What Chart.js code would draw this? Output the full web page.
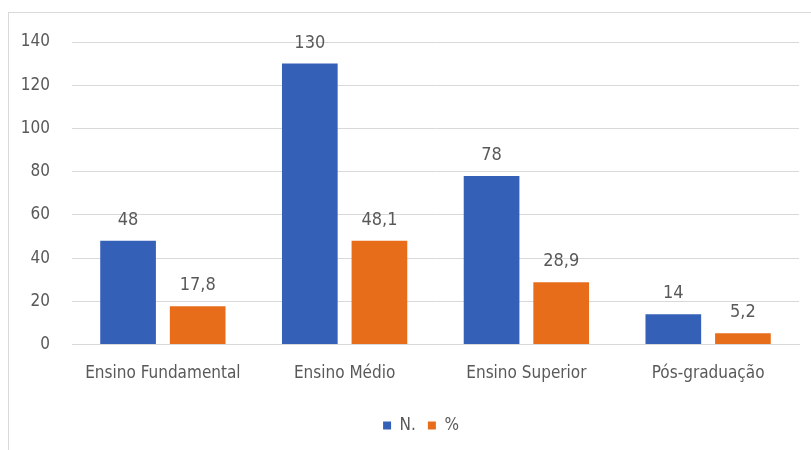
<!DOCTYPE html>
<html>
<head>
<meta charset="utf-8">
<script src="https://cdn.jsdelivr.net/npm/chart.js@4/dist/chart.umd.min.js"></script>
<style>
  body { margin: 0; background: #fff; }
  #frame {
    position: absolute; left: 8px; top: 12px; width: 810px; height: 445px;
    border: 1px solid #d9d9d9; box-sizing: border-box;
  }
  #wrap { position: absolute; left: 0; top: 0; width: 802px; height: 437px; }
</style>
</head>
<body>
<div id="frame"><div id="wrap"><canvas id="chart"></canvas></div></div>
<script>
const categories = ['Ensino Fundamental', 'Ensino Médio', 'Ensino Superior', 'Pós-graduação'];
const countValues = [48, 130, 78, 14];
const percentValues = [17.8, 48.1, 28.9, 5.2];
const seriesNames = ['N.', '%'];

const FAMILY = '"DejaVu Sans", sans-serif';
const WEIGHT = 'normal condensed'; // vira "normal condensed 17px ..." na string da fonte
const textColor = '#595959';
const font = (size) => ({ family: FAMILY, size: size, weight: WEIGHT });

// gradiente vertical em cada barra, como no Excel
function barGradient(light, dark) {
    return (ctx) => {
        const el = ctx.element;
        if (!ctx.chart.chartArea || !el) return dark;
        const top = Math.min(el.y, el.base);
        const bottom = Math.max(el.y, el.base);
        if (!isFinite(top) || bottom - top < 1) return dark;
        const g = ctx.chart.ctx.createLinearGradient(0, top, 0, bottom);
        g.addColorStop(0, light);
        g.addColorStop(1, dark);
        return g;
    };
}

const valueLabels = {
    id: 'valueLabels',
    afterDatasetsDraw(chart) {
        const c = chart.ctx;
        c.save();
        c.font = WEIGHT + ' 18px ' + FAMILY;
        c.fillStyle = textColor;
        c.textAlign = 'center';
        c.textBaseline = 'alphabetic';
        chart.data.datasets.forEach((ds, i) => {
            chart.getDatasetMeta(i).data.forEach((bar, j) => {
                const txt = String(ds.data[j]).replace('.', ',');
                c.fillText(txt, bar.x, bar.y - 16);
            });
        });
        c.restore();
    }
};

// no original a legenda fica um pouco à direita do centro
const legendShift = {
    id: 'legendShift',
    afterLayout(chart) {
        if (!chart.legend) return;
        chart.legend.left += 17;
        chart.legend.right += 17;
    }
};

new Chart(document.getElementById('chart'), {
    type: 'bar',
    data: {
        labels: categories,
        datasets: [{
            label: seriesNames[0],
            data: countValues,
            backgroundColor: barGradient('#5078c9', '#3560b7'),
            categoryPercentage: 0.766,
            barPercentage: 0.8
        }, {
            label: seriesNames[1],
            data: percentValues,
            backgroundColor: barGradient('#f08a48', '#e86d1b'),
            categoryPercentage: 0.766,
            barPercentage: 0.8
        }]
    },
    options: {
        responsive: true,
        maintainAspectRatio: false,
        animation: false,
        layout: { padding: { top: 29, left: 0, right: 12, bottom: 6 } },
        plugins: {
            tooltip: { enabled: false },
            legend: {
                position: 'bottom',
                labels: {
                    boxWidth: 8, boxHeight: 8, padding: 12,
                    color: textColor,
                    font: font(17)
                }
            }
        },
        scales: {
            x: {
                grid: { display: false },
                border: { color: '#d9d9d9' },
                ticks: { color: textColor, font: font(17), padding: 11 },
                afterFit(scale) { scale.height += 10; }
            },
            y: {
                min: 0, max: 140,
                border: { display: false },
                grid: { color: '#d9d9d9', drawTicks: false },
                ticks: { stepSize: 20, color: textColor, font: font(17), padding: 22 },
                afterFit(scale) { scale.width = 63; scale.paddingTop = 0; }
            }
        }
    },
    plugins: [valueLabels, legendShift]
});
</script>
</body>
</html>
